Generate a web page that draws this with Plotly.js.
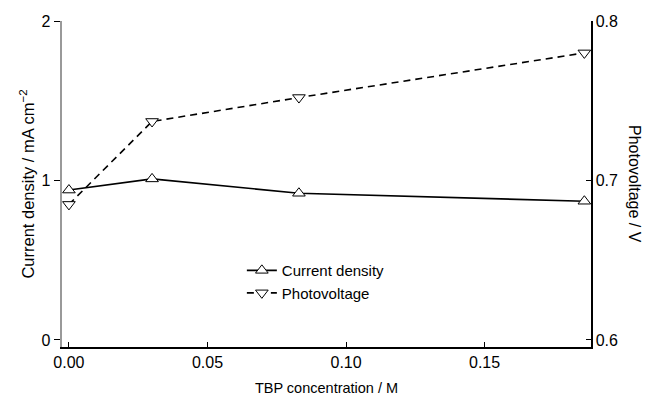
<!DOCTYPE html>
<html>
<head>
<meta charset="utf-8">
<script src="https://cdn.plot.ly/plotly-3.0.1.min.js"></script>
<style>html,body{margin:0;padding:0;background:#fff;}#chart{width:648px;height:403px;}</style>
</head>
<body>
<div id="chart"></div>
<script>
const tbpConcentration = [0, 0.03, 0.083, 0.186];
const currentDensity = [0.94, 1.01, 0.92, 0.87];
const photovoltage = [0.685, 0.737, 0.752, 0.780];
const xTicks = [0, 0.05, 0.10, 0.15];
const xTickLabels = ['0.00', '0.05', '0.10', '0.15'];
const yTicks = [0, 1, 2];
const y2Ticks = [0.6, 0.7, 0.8];

const fam = 'Liberation Sans, Arial, sans-serif';
const font = {family: fam, size: 15, color: '#000'};
const tickFont = {family: fam, size: 16, color: '#000'};
const xTitleFont = {family: fam, size: 14.5, color: '#000'};
const yTitleFont = {family: fam, size: 16.5, color: '#000'};

const traces = [
  {
    x: tbpConcentration, y: currentDensity, name: 'Current density',
    mode: 'lines+markers', yaxis: 'y',
    line: {color: '#000', width: 1.6},
    marker: {symbol: 'triangle-up', size: 11, color: '#fff', line: {color: '#000', width: 1}}
  },
  {
    x: tbpConcentration, y: photovoltage, name: 'Photovoltage',
    mode: 'lines+markers', yaxis: 'y2',
    line: {color: '#000', width: 1.6, dash: '7px,5px'},
    marker: {symbol: 'triangle-down', size: 11, color: '#fff', line: {color: '#000', width: 1}}
  }
];

const layout = {
  width: 648, height: 403,
  margin: {l: 62, r: 57, t: 21, b: 56},
  paper_bgcolor: '#fff', plot_bgcolor: '#fff',
  font: font,
  showlegend: true,
  legend: {x: 0.34, y: 0.285, xanchor: 'left', yanchor: 'top', bgcolor: 'rgba(0,0,0,0)',
           font: font, itemwidth: 30, tracegroupgap: 0},
  xaxis: {
    range: [-0.0025, 0.1884], showgrid: false, zeroline: false,
    showline: true, linecolor: '#000', linewidth: 1.5, mirror: false,
    ticks: 'inside', ticklen: 5, tickcolor: '#000', tickwidth: 1,
    tickvals: xTicks, ticktext: xTickLabels, tickfont: tickFont,
    title: {text: 'TBP concentration / M', font: xTitleFont, standoff: 13}
  },
  yaxis: {
    range: [-0.044, 2], showgrid: false, zeroline: false,
    showline: true, linecolor: '#999', linewidth: 2.5,
    ticks: 'outside', ticklen: 6, tickcolor: '#000', tickwidth: 1,
    tickvals: yTicks, tickfont: tickFont,
    title: {text: 'Current density / mA cm<sup>−2</sup>', font: yTitleFont, standoff: 3}
  },
  yaxis2: {
    overlaying: 'y', side: 'right',
    range: [0.5956, 0.8], showgrid: false, zeroline: false,
    showline: true, linecolor: '#000', linewidth: 1.5,
    ticks: 'inside', ticklen: 5, tickcolor: '#000', tickwidth: 1,
    tickvals: y2Ticks, tickformat: '.1f', tickfont: tickFont
  },
  annotations: [{
    text: 'Photovoltage / V', textangle: 90, font: {family: fam, size: 16, color: '#000'},
    xref: 'paper', yref: 'paper', x: 1, xshift: 44, y: 0.5,
    showarrow: false, xanchor: 'center', yanchor: 'middle'
  }]
};

Plotly.newPlot('chart', traces, layout, {displayModeBar: false, staticPlot: true});
</script>
</body>
</html>
